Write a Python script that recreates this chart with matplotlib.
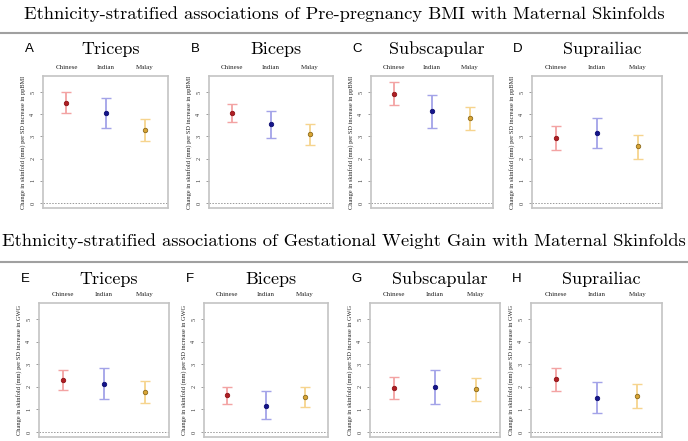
import matplotlib
matplotlib.use("Agg")
import matplotlib.pyplot as plt
from matplotlib.lines import Line2D

# --- data ---
ethnicities = ["Chinese", "Indian", "Malay"]
muscles = ["Triceps", "Biceps", "Subscapular", "Suprailiac"]
letters_bmi = ["A", "B", "C", "D"]
letters_gwg = ["E", "F", "G", "H"]

# estimates [Chinese, Indian, Malay] per skinfold, with lower / upper CI
bmi_est = [[4.52, 4.07, 3.30], [4.07, 3.57, 3.10], [4.92, 4.13, 3.83], [2.95, 3.16, 2.55]]
bmi_lo = [[4.04, 3.39, 2.80], [3.66, 2.94, 2.62], [4.43, 3.39, 3.30], [2.39, 2.48, 1.99]]
bmi_hi = [[5.00, 4.74, 3.78], [4.47, 4.16, 3.57], [5.45, 4.88, 4.32], [3.49, 3.84, 3.07]]

gwg_est = [[2.32, 2.15, 1.79], [1.64, 1.17, 1.54], [1.96, 2.00, 1.90], [2.35, 1.52, 1.60]]
gwg_lo = [[1.87, 1.46, 1.28], [1.23, 0.56, 1.10], [1.48, 1.23, 1.37], [1.82, 0.83, 1.07]]
gwg_hi = [[2.77, 2.86, 2.27], [2.00, 1.81, 1.99], [2.44, 2.77, 2.41], [2.86, 2.21, 2.11]]

bar_colors = ["#F3A3A3", "#A3A3E8", "#F6D48E"]
pt_colors = ["#B01E23", "#14148C", "#D9A534"]
pt_edges = ["#8E1418", "#0E0E70", "#8C6A1C"]

W, H = 688, 441
fig = plt.figure(figsize=(W / 100, H / 100), dpi=100)

SERIF = "Liberation Serif"
CM = "cmr10"


def px_axes(left, top, right, bottom):
    return fig.add_axes([left / W, 1 - bottom / H, (right - left) / W, (bottom - top) / H])


def draw_panel(ax, est, lo, hi, ylab):
    for i in range(3):
        x = i + 1
        ax.errorbar(x, est[i], yerr=[[est[i] - lo[i]], [hi[i] - est[i]]],
                    fmt="none", ecolor=bar_colors[i], elinewidth=1.3,
                    capsize=3.5, capthick=1.0, zorder=2)
        ax.plot(x, est[i], "o", ms=3.2, color=pt_colors[i], mec=pt_edges[i],
                mew=0.6, zorder=3)
    ax.axhline(0, color="#999999", ls=(0, (1.5, 1.5)), lw=0.7)
    ax.set_xlim(0.4, 3.6)
    ax.set_ylim(-0.22, 5.72)
    ax.set_yticks(range(6))
    ax.set_yticklabels([str(v) for v in range(6)], rotation=90, va="center",
                       fontsize=4.5, family=SERIF, color="#333333")
    ax.tick_params(axis="y", length=2.5, width=0.5, color="#777777", pad=3)
    ax.set_xticks([1, 2, 3])
    ax.set_xticklabels(ethnicities, fontsize=5, family=SERIF, color="#222222")
    ax.xaxis.set_ticks_position("top")
    ax.tick_params(axis="x", length=0, pad=4)
    for s in ax.spines.values():
        s.set_color("#C4C4C4")
        s.set_linewidth(1.2)
    ax.set_ylabel(ylab, fontsize=4.6, family=SERIF, color="#222222", labelpad=3)


rows = [
    dict(title="Ethnicity-stratified associations of Pre-pregnancy BMI with Maternal Skinfolds",
         title_y=14, rule_y=33, head_y=49, top=76, bottom=208,
         lefts=[43, 209, 371, 532], rights=[168, 333, 493, 662],
         letters=letters_bmi, est=bmi_est, lo=bmi_lo, hi=bmi_hi,
         ylab="Change in skinfold (mm) per SD increase in ppBMI"),
    dict(title="Ethnicity-stratified associations of Gestational Weight Gain with Maternal Skinfolds",
         title_y=241, rule_y=262, head_y=279, top=303, bottom=437,
         lefts=[39, 204, 370, 531], rights=[169, 328, 500, 662],
         letters=letters_gwg, est=gwg_est, lo=gwg_lo, hi=gwg_hi,
         ylab="Change in skinfold (mm) per SD increase in GWG"),
]

for r in rows:
    fig.text(0.5, 1 - r["title_y"] / H, r["title"], ha="center", va="center",
             fontsize=13.3, family=CM)
    fig.add_artist(Line2D([0, 1], [1 - r["rule_y"] / H] * 2, color="#A0A0A0",
                          lw=1.5, transform=fig.transFigure))
    for k in range(4):
        ax = px_axes(r["lefts"][k], r["top"], r["rights"][k], r["bottom"])
        draw_panel(ax, r["est"][k], r["lo"][k], r["hi"][k], r["ylab"])
        cx = (r["lefts"][k] + r["rights"][k]) / 2 + 5
        fig.text(cx / W, 1 - r["head_y"] / H, muscles[k], ha="center", va="center",
                 fontsize=13, family=CM)
        fig.text((r["lefts"][k] - 14) / W, 1 - r["head_y"] / H, r["letters"][k],
                 ha="center", va="center", fontsize=9.5, family="Liberation Sans")

fig.savefig("out.png", dpi=100)
